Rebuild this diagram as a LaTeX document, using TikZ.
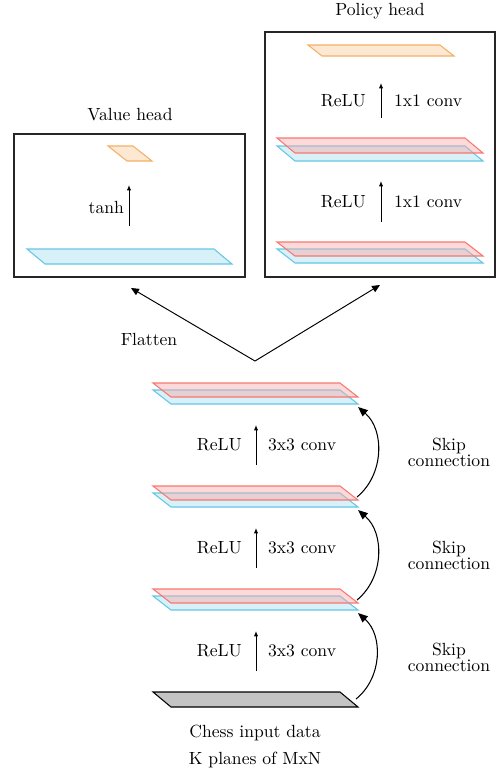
\documentclass[tikz,border=0pt]{standalone}
\usetikzlibrary{arrows.meta,calc}
\definecolor{rstroke}{RGB}{246,120,112}
\definecolor{rfill}{RGB}{250,170,170}
\definecolor{bstroke}{RGB}{100,200,228}
\definecolor{bfill}{RGB}{216,240,247}
\definecolor{ostroke}{RGB}{245,175,100}
\definecolor{ofill}{RGB}{253,232,212}
\definecolor{gfill}{RGB}{196,196,196}
\newcommand\myplane[7]{%
  \draw[#2] (#3,#4) coordinate (#1-tl) -- ++(#5,0) coordinate (#1-tr)
    -- ++(#6,#7) coordinate (#1-br) -- ++(-#5,0) coordinate (#1-bl) -- cycle;}
\tikzset{
  redplane/.style={draw=rstroke, fill=rfill, fill opacity=0.45, draw opacity=1, line width=0.6pt},
  blueplane/.style={draw=bstroke, fill=bfill, line width=0.6pt},
  orangeplane/.style={draw=ostroke, fill=ofill, line width=0.6pt},
  grayplane/.style={draw=black, fill=gfill, line width=0.6pt},
  headbox/.style={draw=black!85, line width=0.6pt},
  vstep/.style={-{Latex[length=3pt,width=2.4pt]}, line width=0.55pt},
  skiparrow/.style={-{Triangle[length=5.5pt,width=4.5pt]}, line width=0.6pt},
  flatarrow/.style={-{Triangle[length=4.5pt,width=4pt]}, line width=0.55pt},
  lbl/.style={font=\normalsize, inner sep=1pt},
  skiplbl/.style={align=center, inner sep=0pt},
}
\begin{document}
\begin{tikzpicture}[x=0.568pt,y=-0.568pt]
\useasboundingbox (0,0) rectangle (500,773);
% main column
\myplane{in}{grayplane}{153}{692}{187}{18}{15}
\myplane{l1b}{blueplane}{153}{596}{187}{18}{14}
\myplane{l1r}{redplane}{153}{589}{187}{18}{14}
\myplane{l2b}{blueplane}{153}{493}{187}{18}{14}
\myplane{l2r}{redplane}{153}{486}{187}{18}{14}
\myplane{l3b}{blueplane}{153}{390}{187}{18}{14}
\myplane{l3r}{redplane}{153}{383}{187}{18}{14}
% vertical steps
\coordinate (a1s) at (256,671); \coordinate (a1e) at (256,631);
\coordinate (a2s) at (256,568); \coordinate (a2e) at (256,528);
\coordinate (a3s) at (256,465); \coordinate (a3e) at (256,425);
\draw[vstep] (a1s) -- (a1e);
\draw[vstep] (a2s) -- (a2e);
\draw[vstep] (a3s) -- (a3e);
\node[lbl, anchor=east] (r1) at (244,651) {ReLU};
\node[lbl, anchor=west] (c1) at (266,651) {3x3 conv};
\node[lbl, anchor=east] (r2) at (244,548) {ReLU};
\node[lbl, anchor=west] (c2) at (266,548) {3x3 conv};
\node[lbl, anchor=east] (r3) at (244,445) {ReLU};
\node[lbl, anchor=west] (c3) at (266,445) {3x3 conv};
% skip connections
\draw[skiparrow] ([shift={(-2,-8)}]in-br) to[bend right=50] ([shift={(0,3)}]l1b-br);
\draw[skiparrow] ([shift={(-1,-3)}]l1r-br) to[bend right=50] ([shift={(0,3)}]l2b-br);
\draw[skiparrow] ([shift={(-1,-3)}]l2r-br) to[bend right=50] ([shift={(0,3)}]l3b-br);
\node[skiplbl] (s1) at (449,657) {Skip\\[-3pt]connection};
\node[skiplbl] (s2) at (449,555) {Skip\\[-3pt]connection};
\node[skiplbl] (s3) at (449,452) {Skip\\[-3pt]connection};
% input labels
\node[lbl] (t1) at (255,733) {Chess input data};
\node[lbl] (t2) at (255,760) {K planes of MxN};
% value head
\draw[headbox] (14,134) coordinate (vbox-nw) rectangle (245,277) coordinate (vbox-se);
\node[lbl] (vtitle) at (130,115) {Value head};
\myplane{vb}{blueplane}{27}{249}{187}{18}{15}
\myplane{vo}{orangeplane}{108}{146}{25}{19}{15}
\coordinate (vas) at (129,226); \coordinate (vae) at (129,185);
\draw[vstep] (vas) -- (vae);
\node[lbl, anchor=east] (tanh) at (126,207) {tanh};
% policy head
\draw[headbox] (265,32) coordinate (pbox-nw) rectangle (495,277) coordinate (pbox-se);
\node[lbl] (ptitle) at (380,11) {Policy head};
\myplane{pb1}{blueplane}{277}{249}{188}{18}{14}
\myplane{pr1}{redplane}{277}{242}{188}{18}{14}
\myplane{pb2}{blueplane}{277}{146}{188}{18}{15}
\myplane{pr2}{redplane}{277}{138}{188}{18}{15}
\myplane{po}{orangeplane}{308}{45}{132}{14}{11}
\coordinate (pa1s) at (381,222); \coordinate (pa1e) at (381,181);
\coordinate (pa2s) at (381,118); \coordinate (pa2e) at (381,83);
\draw[vstep] (pa1s) -- (pa1e);
\draw[vstep] (pa2s) -- (pa2e);
\node[lbl, anchor=east] (pr1l) at (368,202) {ReLU};
\node[lbl, anchor=west] (pc1l) at (392,202) {1x1 conv};
\node[lbl, anchor=east] (pr2l) at (368,101) {ReLU};
\node[lbl, anchor=west] (pc2l) at (392,101) {1x1 conv};
% flatten
\coordinate (apex) at (255,361);
\coordinate (vtip) at (131,288);
\coordinate (ptip) at (380,285);
\draw[flatarrow] (apex) -- (vtip);
\draw[flatarrow] (apex) -- (ptip);
\node[lbl] (flat) at (149,339) {Flatten};
\end{tikzpicture}
\end{document}
